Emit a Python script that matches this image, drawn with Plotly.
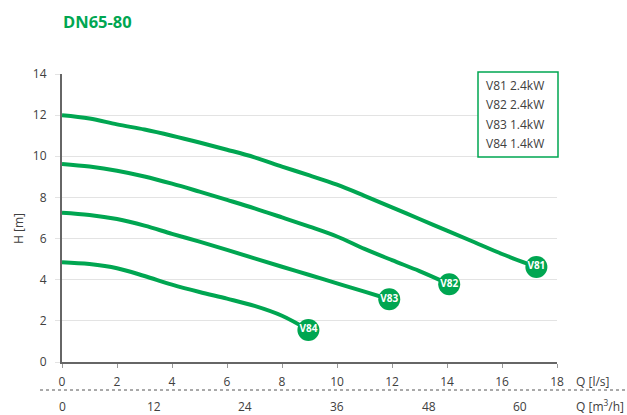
import plotly.graph_objects as go

# ---- data ----
title_text = "DN65-80"
series_names = ["V81", "V82", "V83", "V84"]
legend_labels = ["V81 2.4kW", "V82 2.4kW", "V83 1.4kW", "V84 1.4kW"]

q_v81 = [0, 1, 2, 3, 4, 5, 6, 7, 8, 9, 10, 11, 12, 13, 14, 15, 16, 17, 17.25]
h_v81 = [12.0, 11.84, 11.55, 11.3, 11.0, 10.67, 10.32, 9.95, 9.5, 9.07, 8.62, 8.08,
         7.52, 6.95, 6.39, 5.82, 5.25, 4.74, 4.62]

q_v82 = [0, 1, 2, 3, 4, 5, 6, 7, 8, 9, 10, 11, 12, 13, 14, 14.08]
h_v82 = [9.63, 9.5, 9.3, 9.02, 8.67, 8.28, 7.88, 7.47, 7.03, 6.58, 6.1, 5.5, 4.95,
         4.42, 3.83, 3.78]

q_v83 = [0, 1, 2, 3, 4, 5, 6, 7, 8, 9, 10, 11, 11.9]
h_v83 = [7.26, 7.15, 6.95, 6.63, 6.23, 5.85, 5.45, 5.04, 4.63, 4.23, 3.82, 3.42, 3.05]

q_v84 = [0, 1, 2, 3, 4, 5, 6, 7, 8, 8.96]
h_v84 = [4.85, 4.76, 4.56, 4.18, 3.76, 3.4, 3.08, 2.73, 2.25, 1.56]

x_ticks_ls = [0, 2, 4, 6, 8, 10, 12, 14, 16, 18]
y_ticks = [0, 2, 4, 6, 8, 10, 12, 14]
x_ticks_m3h = [0, 12, 24, 36, 48, 60]
M3H_PER_LS = 3.6

# ---- style ----
GREEN = "#00A651"
TXT = "#404040"
FONT = "Open Sans"
W, H = 627, 415
L, R, T, B = 62, 557, 74, 362  # plot area in pixels


def px(xp):
    return (xp - L) / (R - L)


def py(yp):
    return (B - yp) / (B - T)


fig = go.Figure()
series = [(q_v81, h_v81), (q_v82, h_v82), (q_v83, h_v83), (q_v84, h_v84)]
for name, (q, h) in zip(series_names, series):
    fig.add_trace(go.Scatter(
        x=q, y=h, mode="lines", name=name,
        line=dict(color=GREEN, width=4, shape="spline", smoothing=1.0),
        hoverinfo="skip", showlegend=False,
    ))
for name, (q, h) in zip(series_names, series):
    fig.add_trace(go.Scatter(
        x=[q[-1]], y=[h[-1]], mode="markers+text", text=[name],
        textposition="middle center",
        textfont=dict(family=FONT, size=10, color="white", weight="bold"),
        marker=dict(color=GREEN, size=22, line=dict(width=0)),
        hoverinfo="skip", showlegend=False,
    ))

annotations = []
shapes = []

# title
annotations.append(dict(
    text="<b>" + title_text + "</b>", xref="paper", yref="paper",
    x=px(61), y=py(22), xanchor="left", yanchor="middle", showarrow=False,
    font=dict(family=FONT, size=16.5, color=GREEN),
))
# y title
annotations.append(dict(
    text="H [m]", xref="paper", yref="paper", x=px(18), y=py(229),
    xanchor="center", yanchor="middle", textangle=-90, showarrow=False,
    font=dict(family=FONT, size=12, color=TXT),
))
# axis unit labels
annotations.append(dict(
    text="Q [l/s]", xref="paper", yref="paper", x=px(574), y=py(381),
    xanchor="left", yanchor="middle", showarrow=False,
    font=dict(family=FONT, size=12, color=TXT),
))
annotations.append(dict(
    text="Q [m<sup>3</sup>/h]", xref="paper", yref="paper", x=px(574), y=py(406),
    xanchor="left", yanchor="middle", showarrow=False,
    font=dict(family=FONT, size=12, color=TXT),
))
# second x-axis (m3/h) labels
for v in x_ticks_m3h:
    annotations.append(dict(
        text=str(v), xref="x", yref="paper", x=v / M3H_PER_LS, y=py(406),
        xanchor="center", yanchor="middle", showarrow=False,
        font=dict(family=FONT, size=12, color=TXT),
    ))
# dotted separator
shapes.append(dict(
    type="line", xref="paper", yref="paper", x0=px(40), x1=px(627),
    y0=py(390), y1=py(390), line=dict(color="#555555", width=1, dash="dot"),
))
# legend box
shapes.append(dict(
    type="rect", xref="paper", yref="paper", x0=px(478), x1=px(558),
    y0=py(157), y1=py(72), line=dict(color=GREEN, width=1.5),
    fillcolor="white", layer="above",
))
for i, lab in enumerate(legend_labels):
    annotations.append(dict(
        text=lab, xref="paper", yref="paper", x=px(484), y=py(85 + i * 19.5),
        xanchor="left", yanchor="middle", showarrow=False,
        font=dict(family=FONT, size=12, color=TXT),
    ))

fig.update_layout(
    width=W, height=H,
    margin=dict(l=L, r=W - R, t=T, b=H - B, pad=0),
    paper_bgcolor="white", plot_bgcolor="white",
    font=dict(family=FONT, size=12, color=TXT),
    annotations=annotations, shapes=shapes,
    xaxis=dict(
        range=[0, 18], tickvals=x_ticks_ls, showgrid=False, zeroline=False,
        showline=True, linecolor="#666666", linewidth=2,
        ticks="outside", ticklen=4, tickcolor="#999999", tickwidth=1,
        tickfont=dict(family=FONT, size=12, color=TXT), ticklabelstandoff=4,
        fixedrange=True,
    ),
    yaxis=dict(
        range=[0, 14], tickvals=y_ticks, showgrid=True, gridcolor="#e3e3e3",
        gridwidth=1, zeroline=False, showline=True, linecolor="#666666",
        linewidth=2, ticks="outside", ticklen=5, tickcolor="#e3e3e3",
        tickfont=dict(family=FONT, size=12, color=TXT), ticklabelstandoff=6,
        fixedrange=True,
    ),
)

fig.write_html(
    "out.html",
    config={"displayModeBar": False, "staticPlot": True},
    post_script="document.body.style.margin='0';document.body.style.padding='0';",
)
